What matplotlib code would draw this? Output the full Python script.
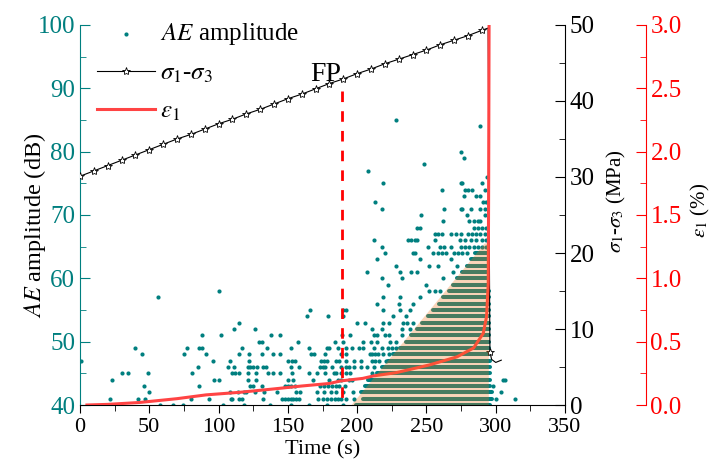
import matplotlib
matplotlib.use('Agg')
import matplotlib.pyplot as plt
from matplotlib.ticker import MultipleLocator

plt.rcParams['font.family'] = 'Liberation Serif'
plt.rcParams['mathtext.fontset'] = 'stix'
plt.rcParams['font.size'] = 16

teal = '#007F7F'

# AE amplitude: sparse hits, listed per dB level (times in s)
sparse_levels = [40, 41, 42, 43, 44, 45, 46, 47, 48, 49, 50, 51, 52, 53, 54, 55,
                 56, 57, 58, 59, 60, 61, 62, 63, 64, 65, 66, 67, 68, 69, 70, 71,
                 72, 73, 74, 75, 76, 77, 78, 79, 80, 84, 85]
sparse_times = [
    [58, 67, 74, 103, 118, 137, 152, 165, 178, 190],
    [22, 42, 47, 80, 93, 109, 110, 115, 117, 132, 146, 148, 150, 152, 154, 156, 158,
     172, 175, 178, 181, 184, 186, 188, 192, 198, 300, 314],
    [50, 108, 114, 118, 120, 126, 133, 142, 156, 159, 171, 176, 181, 185, 190, 197, 304],
    [46, 86, 123, 125, 131, 148, 150, 152, 155, 173, 176, 179, 182, 185, 187, 191, 298],
    [23, 97, 100, 121, 127, 150, 154, 168, 180, 186, 188, 194, 196, 305, 307],
    [30, 35, 49, 81, 110, 112, 115, 121, 127, 136, 139, 144, 153, 165, 171, 177, 183,
     185, 188, 192, 195, 211],
    [85, 107, 111, 121, 123, 125, 128, 132, 134, 152, 158, 173, 175, 177, 182, 188,
     192, 194, 198, 203, 207, 212],
    [1, 96, 108, 122, 150, 153, 155, 174, 176, 178, 185, 187, 192, 198, 203, 211, 213,
     216, 221],
    [45, 75, 91, 115, 122, 131, 139, 144, 167, 169, 177, 188, 192, 209, 211, 213, 215,
     219, 223],
    [40, 77, 86, 88, 117, 135, 152, 165, 178, 180, 186, 192, 196, 201, 204, 212, 218,
     222, 225, 228],
    [129, 131, 157, 184, 190, 204, 210, 214, 224, 228],
    [88, 102, 138, 144, 189, 195, 212, 214, 220, 223, 232],
    [111, 126, 211, 218, 232, 238],
    [115, 200, 206, 219, 223, 233, 236, 240],
    [164, 179, 190, 226, 235],
    [166, 190, 192, 219, 231, 238],
    [214, 230, 240],
    [56, 219, 231, 245],
    [100, 252, 256, 260],
    [222, 250],
    [218, 232, 262],
    [207, 231, 239, 243, 269],
    [228, 252, 258, 272],
    [214, 245, 268],
    [220, 240, 242, 255, 258, 261, 264, 270, 273, 276, 279],
    [218, 251, 260, 263, 268, 275, 278, 281, 284, 287, 290, 293],
    [212, 237, 239, 242, 243, 256, 274, 278, 282, 286, 290, 293],
    [256, 258, 261, 268, 271, 275, 280, 283, 286, 289, 292],
    [243, 245, 284, 287, 290, 293],
    [262, 281, 284, 287, 289],
    [246, 279, 292],
    [218, 263, 275, 276, 282, 289, 292],
    [213, 291, 293],
    [277, 286, 289],
    [261, 278, 280, 283, 292],
    [219, 275, 276, 290],
    [294],
    [208],
    [248],
    [277],
    [275],
    [289],
    [228],
]

# AE amplitude: dense hit bands after FP (level, first and last time)
dense_db = [40, 41, 42, 43, 44, 45, 46, 47, 48, 49, 50, 51, 52, 53, 54, 55, 56,
            57, 58, 59, 60, 61, 62, 63, 64]
dense_start = [199, 204, 203, 206, 208, 214, 218, 222, 226, 231, 235, 239, 243,
               247, 251, 255, 259, 262, 266, 269, 272, 276, 279, 282, 285]
dense_end = [296, 297, 297, 296, 296, 296, 296, 296, 295, 295, 295, 295, 295,
             295, 295, 295, 295, 295, 295, 294, 294, 294, 294, 294, 294]

# deviatoric stress
sig_t = [0, 10, 20, 30, 40, 50, 60, 70, 80, 90, 100, 110, 120, 130, 140, 150, 160,
         170, 180, 190, 200, 210, 220, 230, 240, 250, 260, 270, 280, 290, 294.5,
         295.8, 297, 300, 304]
sig_v = [30.1, 30.8, 31.5, 32.2, 32.9, 33.6, 34.3, 35.0, 35.6, 36.3, 37.0, 37.6,
         38.3, 38.9, 39.6, 40.3, 40.9, 41.6, 42.3, 42.9, 43.6, 44.2, 44.9, 45.5,
         46.1, 46.7, 47.4, 48.0, 48.6, 49.3, 49.6, 7.0, 6.0, 5.6, 5.9]
sig_marks = list(range(30)) + [31]

# axial strain
eps_t = [5, 20, 43, 70, 91, 115, 139, 160, 180, 188, 204, 212, 228, 252, 272, 284,
         291, 293.4, 294.6, 294.9, 295.2]
eps_v = [0.0, 0.005, 0.02, 0.05, 0.08, 0.10, 0.126, 0.15, 0.17, 0.19, 0.21, 0.23,
         0.255, 0.316, 0.38, 0.45, 0.566, 0.70, 0.96, 1.8, 3.05]

fp_t = 189
fp_top = 89.6

zone_t = [196, 292, 295, 295]
zone_db = [40, 65.5, 65.5, 40]

fig = plt.figure(figsize=(7.11, 4.68), dpi=100)
ax = fig.add_axes([0.1125, 0.1346, 0.6822, 0.812])
ax2 = ax.twinx()
ax3 = ax.twinx()
ax3.spines['right'].set_position(('outward', 58))

# AE amplitude
xs, ys = [], []
for lev, ts in zip(sparse_levels, sparse_times):
    xs += ts
    ys += [lev] * len(ts)
sc = ax.scatter(xs, ys, s=9, color=teal, linewidths=0, zorder=2, label='$AE$ amplitude')
band = ax.hlines(dense_db, dense_start, dense_end, color=teal, lw=2.9, zorder=2)
band.set_capstyle('round')

ax.plot([fp_t, fp_t], [fp_top, 40], color='red', lw=2, ls=(0, (3.8, 3.3)), zorder=3)
ax.text(177.5, 92.2, 'FP', ha='center', va='center', fontsize=20)

ax.set_xlim(0, 350)
ax.set_ylim(40, 100)
ax.xaxis.set_major_locator(MultipleLocator(50))
ax.xaxis.set_minor_locator(MultipleLocator(25))
ax.yaxis.set_major_locator(MultipleLocator(10))
ax.yaxis.set_minor_locator(MultipleLocator(5))
ax.tick_params(axis='x', which='major', direction='out', length=6)
ax.tick_params(axis='x', which='minor', direction='out', length=4)
ax.tick_params(axis='y', which='major', direction='in', length=7, color=teal,
               labelcolor=teal, labelsize=18)
ax.tick_params(axis='y', which='minor', direction='in', length=4, color=teal)
ax.spines['left'].set_color(teal)
ax.spines['top'].set_visible(False)
ax.spines['right'].set_visible(False)
ax.set_xlabel('Time (s)', labelpad=2)
ax.set_ylabel('$AE$ amplitude (dB)', fontsize=17.5)
ax.yaxis.set_label_coords(-0.066, 0.474)

# stress
l2, = ax2.plot(sig_t, sig_v, color='black', lw=0.8, marker='*', ms=6,
               mfc='white', mec='black', mew=0.6, markevery=sig_marks,
               label=r'$\sigma_1$-$\sigma_3$')
ax2.set_ylim(0, 50)
ax2.yaxis.set_major_locator(MultipleLocator(10))
ax2.yaxis.set_minor_locator(MultipleLocator(5))
ax2.tick_params(axis='y', which='major', direction='in', length=7, labelsize=18)
ax2.tick_params(axis='y', which='minor', direction='in', length=4)
for s in ['left', 'top', 'bottom']:
    ax2.spines[s].set_visible(False)
ax2.set_ylabel(r'$\sigma_1$-$\sigma_3$ (MPa)', fontsize=15)
ax2.yaxis.set_label_coords(1.083, 0.537)

# strain
l3, = ax3.plot(eps_t, eps_v, color='#FF4444', lw=2.2, zorder=2, label=r'$\varepsilon_1$')
ax3.fill(zone_t, zone_db, transform=ax.transData, color='#F0741A', alpha=0.3,
         lw=0, zorder=3)
ax3.set_ylim(0, 3.0)
ax3.yaxis.set_major_locator(MultipleLocator(0.5))
ax3.yaxis.set_minor_locator(MultipleLocator(0.25))
ax3.tick_params(axis='y', which='major', direction='in', length=7, color='red',
                labelcolor='red', labelsize=18)
ax3.tick_params(axis='y', which='minor', direction='in', length=4, color='red')
ax3.yaxis.set_major_formatter(plt.FormatStrFormatter('%.1f'))
for s in ['left', 'top', 'bottom']:
    ax3.spines[s].set_visible(False)
ax3.spines['right'].set_color('red')
ax3.set_ylabel(r'$\varepsilon_1$ (%)', fontsize=15)
ax3.yaxis.set_label_coords(1.255, 0.513)

ax3.legend(handles=[sc, l2, l3], loc='upper left', bbox_to_anchor=(0.035, 1.01),
           frameon=False, borderpad=0, borderaxespad=0, handlelength=2.32,
           handletextpad=0.2, labelspacing=0.6, fontsize=18)

fig.savefig('out.png', dpi=100)
